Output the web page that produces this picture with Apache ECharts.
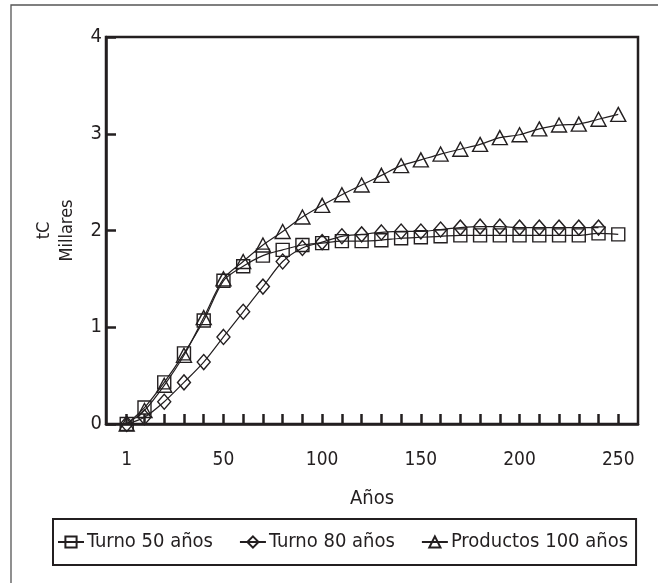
<!DOCTYPE html>
<html>
<head>
<meta charset="utf-8">
<script src="https://cdn.jsdelivr.net/npm/echarts@6/dist/echarts.min.js"></script>
<style>
html,body{margin:0;padding:0;background:#fff;}
#chart{width:658px;height:583px;}
</style>
</head>
<body>
<div id="chart"></div>
<script>
const years = [1,10,20,30,40,50,60,70,80,90,100,110,120,130,140,150,160,170,180,190,200,210,220,230,240,250];
const turno50 = [0,0.17,0.43,0.73,1.07,1.48,1.63,1.74,1.80,1.85,1.87,1.89,1.89,1.90,1.92,1.93,1.94,1.95,1.95,1.95,1.95,1.95,1.95,1.95,1.97,1.96];
const turno80 = [0,0.07,0.23,0.43,0.64,0.90,1.16,1.42,1.68,1.82,1.88,1.94,1.96,1.98,1.99,1.99,2.01,2.03,2.04,2.04,2.03,2.03,2.03,2.03,2.03];
const productos100 = [0,0.14,0.40,0.71,1.10,1.50,1.68,1.85,1.99,2.14,2.26,2.37,2.47,2.57,2.67,2.73,2.79,2.84,2.89,2.96,2.99,3.05,3.09,3.10,3.15,3.20];
const xTickValues = [1,10,20,30,40,50,60,70,80,90,100,110,120,130,140,150,160,170,180,190,200,210,220,230,240,250];
const xLabelValues = [1,50,100,150,200,250];
const seriesNames = ['Turno 50 años','Turno 80 años','Productos 100 años'];

const FONT = '"DejaVu Sans Condensed","DejaVu Sans",sans-serif';
const INK = '#231f20';

function pairs(vals){ return vals.map((v,i)=>[years[i], v]); }

const chart = echarts.init(document.getElementById('chart'), null, {renderer:'canvas'});

function mkSeries(name, vals, symbol, size){
  return {
    name: name, type: 'line', data: pairs(vals),
    smooth: 0.3, symbol: symbol, symbolSize: size, showSymbol: true,
    lineStyle: {color: INK, width: 1.2},
    itemStyle: {color: 'transparent', borderColor: INK, borderWidth: 1.4},
    emphasis: {disabled: true},
    animation: false
  };
}

chart.setOption({
  animation: false,
  backgroundColor: '#fff',
  graphic: [{
    type: 'rect', silent: true,
    shape: {x: 11, y: 5, width: 700, height: 700},
    style: {fill: 'none', stroke: '#555', lineWidth: 1.3}
  }],
  grid: {left: 106, right: 20, top: 37, bottom: 159, show: true, borderColor: INK, borderWidth: 2.5, containLabel: false},
  xAxis: {
    type: 'value', min: -9.5, max: 260,
    name: 'Años', nameLocation: 'middle', nameGap: 65,
    nameTextStyle: {fontFamily: FONT, fontSize: 20, color: INK},
    axisLine: {show: true, onZero: false, lineStyle: {color: INK, width: 2.5}},
    axisTick: {show: true, inside: true, length: 10, customValues: xTickValues, lineStyle: {color: INK, width: 2.5}},
    axisLabel: {customValues: xLabelValues, fontFamily: FONT, fontSize: 19, color: INK, margin: 27},
    splitLine: {show: false}
  },
  yAxis: {
    type: 'value', min: 0, max: 4, interval: 1,
    name: 'tC\nMillares', nameLocation: 'middle', nameRotate: 90, nameGap: 27,
    nameTextStyle: {fontFamily: FONT, fontSize: 18, color: INK, lineHeight: 23},
    axisLine: {show: true, onZero: false, lineStyle: {color: INK, width: 2.5}},
    axisTick: {show: true, inside: true, length: 10, lineStyle: {color: INK, width: 2.5}},
    axisLabel: {fontFamily: FONT, fontSize: 20, color: INK, margin: 4},
    splitLine: {show: false}
  },
  legend: {
    data: seriesNames, left: 53, top: 519, orient: 'horizontal',
    itemWidth: 26, itemHeight: 14, itemGap: 26,
    padding: [13, 8, 13, 4],
    borderColor: INK, borderWidth: 2,
    textStyle: {fontFamily: FONT, fontSize: 20, color: INK, padding: [0,0,0,-2]},
    selectedMode: false
  },
  series: [
    mkSeries(seriesNames[0], turno50, 'rect', 13),
    mkSeries(seriesNames[1], turno80, 'diamond', [13,15]),
    mkSeries(seriesNames[2], productos100, 'triangle', [15,14])
  ]
});
</script>
</body>
</html>
